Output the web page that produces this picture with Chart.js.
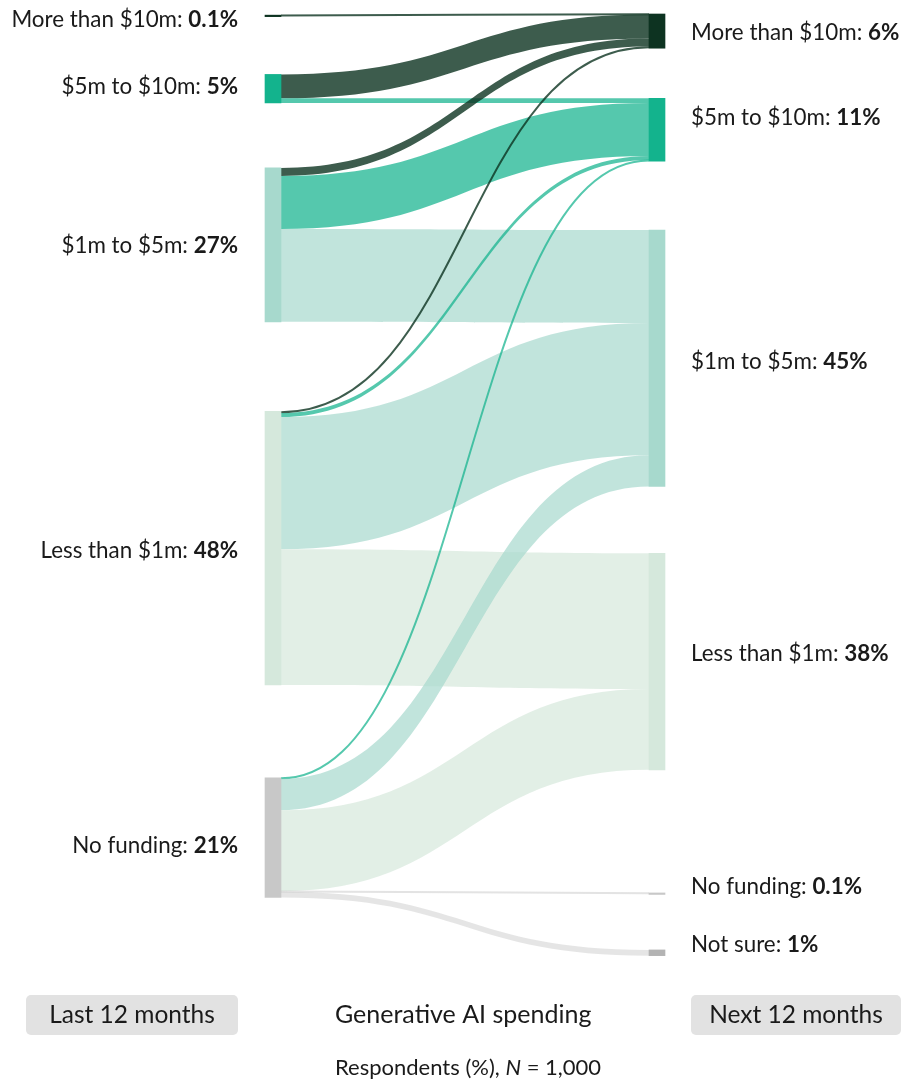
<!DOCTYPE html>
<html>
<head>
<meta charset="utf-8">
<title>Generative AI spending</title>
<script src="https://cdn.jsdelivr.net/npm/chart.js@4.4.1/dist/chart.umd.min.js"></script>
<style>
  html, body { margin: 0; padding: 0; background: #fff; }
  canvas { display: block; }
</style>
</head>
<body>
<canvas id="flowChart" width="901" height="1082"></canvas>
<script>
// Spending brackets, top to bottom
const lastLabels = ['More than $10m', '$5m to $10m', '$1m to $5m', 'Less than $1m', 'No funding'];
const lastShares = [0.1, 5, 27, 48, 21];
const nextLabels = ['More than $10m', '$5m to $10m', '$1m to $5m', 'Less than $1m', 'No funding', 'Not sure'];
const nextShares = [6, 11, 45, 38, 0.1, 1];

// Respondents (%) moving from a bracket last year to a bracket next year
const flowFrom  = [0, 1, 1, 2, 2, 2, 3, 3, 3, 3, 4, 4, 4, 4, 4];
const flowTo    = [0, 0, 1, 0, 1, 2, 0, 1, 2, 3, 1, 2, 3, 4, 5];
const flowShare = [0.1, 4.2, 0.8, 1.4, 9.3, 16.3, 0.3, 0.7, 23.2, 23.8, 0.2, 5.5, 14.2, 0.1, 1.0];

// Empty space left above each node, same units as the y axis
const lastGap = [0.2, 10.3, 11.4, 15.7, 16.3];
const nextGap = [0, 8.8, 12.1, 11.7, 21.6, 9.9];

const nodeColors = ['#0d3321', '#13b38d', '#a7d9cd', '#d5e8dc', '#c8c8c8', '#b3b3b3'];
const linkColors = [
    'rgba(13, 51, 33, 0.8)',
    'rgba(19, 179, 141, 0.72)',
    'rgba(167, 217, 205, 0.7)',
    'rgba(213, 232, 220, 0.7)',
    'rgba(200, 200, 200, 0.5)',
    'rgba(180, 180, 180, 0.35)'
];
// nudges for the bracket labels (px)
const lastLabelShift = [4, -2, 1, 3, 8];
const nextLabelShift = [2, -12, 4, -8, -6, -8];

const FONT = 'Lato, "Open Sans", sans-serif';
const TEXT = '#1a1a1a';
const NODE_W = 16;
const LABEL_SIZE = 22.4;

function stackNodes(shares, gaps) {
    let pos = 0;
    return shares.map((v, i) => {
        pos += gaps[i];
        const span = [pos, pos + v];
        pos += v;
        return span;
    });
}

const lastSpans = stackNodes(lastShares, lastGap);
const nextSpans = stackNodes(nextShares, nextGap);

// Curved bands between the two columns, drawn under the node bars
const linksPlugin = {
    id: 'links',
    beforeDatasetsDraw(chart) {
        const { ctx, scales: { x, y } } = chart;
        const x0 = x.getPixelForValue(0) + NODE_W / 2;
        const x1 = x.getPixelForValue(1) - NODE_W / 2;
        const xm = (x0 + x1) / 2;
        const outPos = lastSpans.map(s => s[0]);
        const inPos = nextSpans.map(s => s[0]);

        ctx.save();
        flowShare.forEach((v, i) => {
            const s = flowFrom[i], t = flowTo[i];
            const a0 = y.getPixelForValue(outPos[s]);
            const b0 = y.getPixelForValue(outPos[s] + v);
            const a1 = y.getPixelForValue(inPos[t]);
            const b1 = y.getPixelForValue(inPos[t] + v);
            outPos[s] += v;
            inPos[t] += v;

            if (b0 - a0 < 2) {
                // hairline for very small groups
                const c0 = (a0 + b0) / 2, c1 = (a1 + b1) / 2;
                ctx.beginPath();
                ctx.moveTo(x0, c0);
                ctx.bezierCurveTo(xm, c0, xm, c1, x1, c1);
                ctx.lineWidth = 2;
                ctx.strokeStyle = linkColors[t];
                ctx.stroke();
                return;
            }
            ctx.beginPath();
            ctx.moveTo(x0, a0);
            ctx.bezierCurveTo(xm, a0, xm, a1, x1, a1);
            ctx.lineTo(x1, b1);
            ctx.bezierCurveTo(xm, b1, xm, b0, x0, b0);
            ctx.closePath();
            ctx.fillStyle = linkColors[t];
            ctx.fill();
        });
        ctx.restore();
    }
};

function drawLabel(ctx, name, share, px, py, align) {
    const head = name + ': ';
    const tail = share + '%';
    const reg = '400 ' + LABEL_SIZE + 'px ' + FONT;
    const bold = '700 ' + LABEL_SIZE + 'px ' + FONT;
    ctx.font = reg;
    const w1 = ctx.measureText(head).width;
    ctx.font = bold;
    const w2 = ctx.measureText(tail).width;
    const left = align === 'right' ? px - w1 - w2 : px;
    ctx.textAlign = 'left';
    ctx.textBaseline = 'middle';
    ctx.fillStyle = TEXT;
    ctx.font = reg;
    ctx.fillText(head, left, py);
    ctx.font = bold;
    ctx.fillText(tail, left + w1, py);
}

function roundBox(ctx, bx, by, bw, bh, r) {
    ctx.beginPath();
    ctx.moveTo(bx + r, by);
    ctx.arcTo(bx + bw, by, bx + bw, by + bh, r);
    ctx.arcTo(bx + bw, by + bh, bx, by + bh, r);
    ctx.arcTo(bx, by + bh, bx, by, r);
    ctx.arcTo(bx, by, bx + bw, by, r);
    ctx.closePath();
    ctx.fillStyle = '#e2e2e2';
    ctx.fill();
}

// Bracket labels beside each column and the captions underneath
const labelsPlugin = {
    id: 'labels',
    afterDraw(chart) {
        const { ctx, scales: { x, y } } = chart;
        const lx = x.getPixelForValue(0) - 35;
        const rx = x.getPixelForValue(1) + 34;
        ctx.save();
        lastSpans.forEach((s, i) => {
            const cy = y.getPixelForValue((s[0] + s[1]) / 2) + lastLabelShift[i];
            drawLabel(ctx, lastLabels[i], lastShares[i], lx, cy, 'right');
        });
        nextSpans.forEach((s, i) => {
            const cy = y.getPixelForValue((s[0] + s[1]) / 2) + nextLabelShift[i];
            drawLabel(ctx, nextLabels[i], nextShares[i], rx, cy, 'left');
        });

        // period boxes
        roundBox(ctx, 26, 995, lx - 26, 40, 5);
        roundBox(ctx, rx, 995, 901 - rx, 40, 5);
        ctx.fillStyle = TEXT;
        ctx.textBaseline = 'middle';
        ctx.textAlign = 'center';
        ctx.font = '400 24.5px ' + FONT;
        ctx.fillText('Last 12 months', (26 + lx) / 2, 1015);
        ctx.fillText('Next 12 months', (rx + 901) / 2, 1015);

        ctx.textAlign = 'left';
        ctx.font = '400 25px ' + FONT;
        ctx.fillText('Generative AI spending', 335, 1015);

        let tx = 335;
        const parts = [['Respondents (%), ', '400'], ['N', 'italic 400'], [' = 1,000', '400']];
        parts.forEach(([t, f]) => {
            ctx.font = f + ' 22px ' + FONT;
            ctx.fillText(t, tx, 1068);
            tx += ctx.measureText(t).width;
        });
        ctx.restore();
    }
};

const chart = new Chart(document.getElementById('flowChart'), {
    type: 'bar',
    data: {
        datasets: [
            {
                label: 'Last 12 months',
                data: lastSpans.map(s => ({ x: 0, y: s })),
                backgroundColor: nodeColors.slice(0, lastSpans.length),
                barThickness: NODE_W,
                minBarLength: 1.5,
                grouped: false,
                borderWidth: 0,
                clip: false
            },
            {
                label: 'Next 12 months',
                data: nextSpans.map(s => ({ x: 1, y: s })),
                backgroundColor: nodeColors.slice(0, nextSpans.length),
                barThickness: NODE_W,
                minBarLength: 1.5,
                grouped: false,
                borderWidth: 0,
                clip: false
            }
        ]
    },
    options: {
        responsive: false,
        animation: false,
        layout: { padding: { left: 273, right: 244, top: 14, bottom: 99 } },
        scales: {
            x: { type: 'linear', min: 0, max: 1, offset: false, display: false },
            y: { type: 'linear', min: 0, max: 170, reverse: true, display: false }
        },
        plugins: {
            legend: { display: false },
            tooltip: { enabled: false }
        }
    },
    plugins: [linksPlugin, labelsPlugin]
});
</script>
</body>
</html>
